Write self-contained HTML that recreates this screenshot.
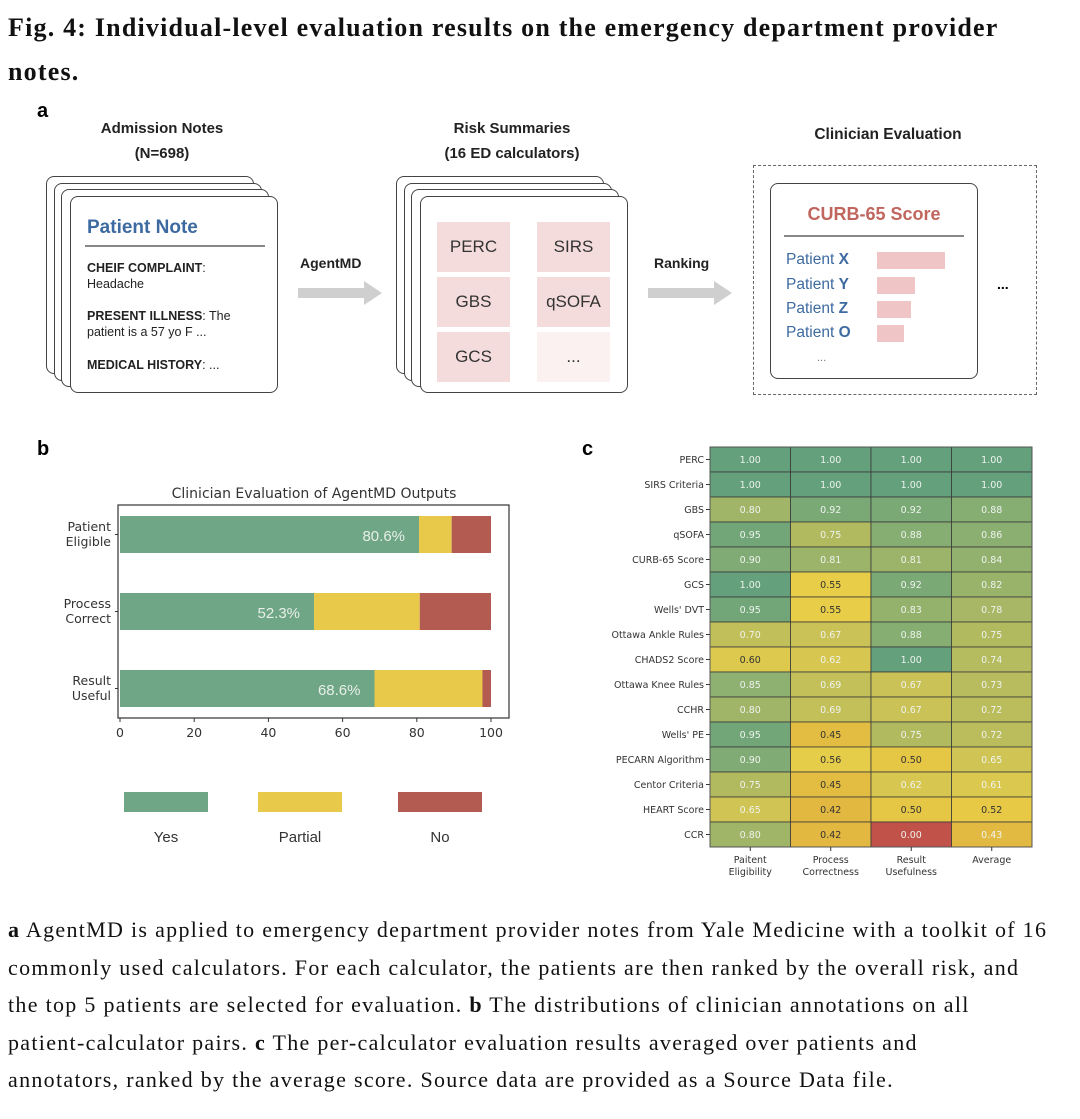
<!DOCTYPE html>
<html><head><meta charset="utf-8"><style>
body{margin:0;width:1080px;height:1119px;background:#fff;position:relative;overflow:hidden;font-family:"Liberation Sans",sans-serif;}
.abs{position:absolute;}
.title{font-family:"Liberation Serif",serif;font-weight:bold;font-size:26px;letter-spacing:1.2px;line-height:44px;left:8px;top:6px;width:1070px;color:#111;white-space:nowrap;}
.cap{font-family:"Liberation Serif",serif;font-size:22px;letter-spacing:1.3px;line-height:37.5px;left:8px;top:911px;width:1075px;color:#111;white-space:nowrap;}
.card{position:absolute;background:#fff;border:1.5px solid #444;border-radius:8px;}
.pn{font-size:12.5px;color:#222;}
.box{position:absolute;background:#f4dcdc;font-size:17px;color:#333;display:flex;align-items:center;justify-content:center;width:73px;height:50px;}
.plab{position:absolute;color:#3d6aa0;font-size:15.5px;}
.pbar{position:absolute;background:#efc5c5;height:17px;}
</style></head><body>
<div class="abs title">Fig. 4: Individual-level evaluation results on the emergency department provider<br>notes.</div>

<!-- panel a -->
<div>
<div class="abs" style="left:37px;top:100px;font-weight:bold;font-size:20px;">a</div>
<div class="abs" style="left:62px;top:116px;width:200px;text-align:center;font-weight:bold;font-size:15px;line-height:25px;color:#222;">Admission Notes<br>(N=698)</div>
<div class="card" style="left:46px;top:176px;width:206px;height:196px;"></div>
<div class="card" style="left:54px;top:183px;width:206px;height:196px;"></div>
<div class="card" style="left:61px;top:189px;width:206px;height:196px;"></div>
<div class="card" style="left:70px;top:196px;width:206px;height:195px;">
  <div class="abs" style="left:16px;top:20px;color:#3d6aa0;font-size:19px;font-weight:bold;">Patient Note</div>
  <div class="abs" style="left:14px;top:48px;width:180px;border-top:2px solid #888;"></div>
  <div class="abs pn" style="left:16px;top:63px;line-height:16px;"><b>CHEIF COMPLAINT</b>:<br>Headache</div>
  <div class="abs pn" style="left:16px;top:111px;line-height:16px;"><b>PRESENT ILLNESS</b>: The<br>patient is a 57 yo F ...</div>
  <div class="abs pn" style="left:16px;top:161px;"><b>MEDICAL HISTORY</b>: ...</div>
</div>
<div class="abs" style="left:300px;top:255px;font-weight:bold;font-size:14px;color:#222;">AgentMD</div>
<svg class="abs" style="left:296px;top:280px;" width="90" height="26"><path d="M2 8 H68 V1 L86 13 L68 25 V18 H2 Z" fill="#cfcfcf"/></svg>

<div class="abs" style="left:412px;top:116px;width:200px;text-align:center;font-weight:bold;font-size:15px;line-height:25px;color:#222;">Risk Summaries<br>(16 ED calculators)</div>
<div class="card" style="left:396px;top:176px;width:206px;height:196px;"></div>
<div class="card" style="left:404px;top:183px;width:206px;height:196px;"></div>
<div class="card" style="left:411px;top:189px;width:206px;height:196px;"></div>
<div class="card" style="left:420px;top:196px;width:206px;height:195px;">
  <div class="box" style="left:16px;top:25px;">PERC</div>
  <div class="box" style="left:116px;top:25px;">SIRS</div>
  <div class="box" style="left:16px;top:80px;">GBS</div>
  <div class="box" style="left:116px;top:80px;">qSOFA</div>
  <div class="box" style="left:16px;top:135px;">GCS</div>
  <div class="box" style="left:116px;top:135px;background:#fbf1f1;">...</div>
</div>
<div class="abs" style="left:654px;top:255px;font-weight:bold;font-size:14px;color:#222;">Ranking</div>
<svg class="abs" style="left:646px;top:280px;" width="90" height="26"><path d="M2 8 H68 V1 L86 13 L68 25 V18 H2 Z" fill="#cfcfcf"/></svg>

<div class="abs" style="left:770px;top:126px;width:236px;text-align:center;font-weight:bold;font-size:15.5px;color:#222;">Clinician Evaluation</div>
<div class="abs" style="left:753px;top:165px;width:282px;height:228px;border:1.5px dashed #666;"></div>
<div class="card" style="left:770px;top:183px;width:206px;height:194px;">
  <div class="abs" style="left:0;top:20px;width:206px;text-align:center;color:#c0665e;font-size:18px;font-weight:bold;">CURB-65 Score</div>
  <div class="abs" style="left:13px;top:51px;width:180px;border-top:2px solid #888;"></div>
  <div class="plab" style="left:15px;top:67px;">Patient <b>X</b></div><div class="pbar" style="left:106px;top:68px;width:68px;"></div>
  <div class="plab" style="left:15px;top:92px;">Patient <b>Y</b></div><div class="pbar" style="left:106px;top:93px;width:38px;"></div>
  <div class="plab" style="left:15px;top:116px;">Patient <b>Z</b></div><div class="pbar" style="left:106px;top:117px;width:34px;"></div>
  <div class="plab" style="left:15px;top:140px;">Patient <b>O</b></div><div class="pbar" style="left:106px;top:141px;width:27px;"></div>
  <div class="abs" style="left:46px;top:168px;font-size:11px;color:#777;">...</div>
</div>
<div class="abs" style="left:997px;top:276px;font-weight:bold;font-size:14px;">...</div>
</div>

<!-- panel b -->
<div class="abs" style="left:37px;top:438px;font-weight:bold;font-size:20px;">b</div>
<svg class="abs" style="left:0;top:0" width="1080" height="1119" id="barsvg"></svg>

<!-- panel c -->
<div class="abs" style="left:582px;top:438px;font-weight:bold;font-size:20px;">c</div>

<div class="abs cap"><b>a</b> AgentMD is applied to emergency department provider notes from Yale Medicine with a toolkit of 16<br>commonly used calculators. For each calculator, the patients are then ranked by the overall risk, and<br>the top 5 patients are selected for evaluation. <b>b</b> The distributions of clinician annotations on all<br>patient-calculator pairs. <b>c</b> The per-calculator evaluation results averaged over patients and<br>annotators, ranked by the average score. Source data are provided as a Source Data file.</div>

<script>
var NS='http://www.w3.org/2000/svg';
var svg=document.getElementById('barsvg');
function mk(tag,attrs,parent){var e=document.createElementNS(NS,tag);for(var k in attrs)e.setAttribute(k,attrs[k]);(parent||svg).appendChild(e);return e;}
function txt(s,attrs){var t=mk('text',attrs);t.textContent=s;return t;}

// ---- bar chart data ----
var barCategories=['Patient|Eligible','Process|Correct','Result|Useful'];
var yesValues=[80.6,52.3,68.6];
var partialValues=[8.8,28.5,29.1];
var noValues=[10.6,19.2,2.3];
var xTicks=[0,20,40,60,80,100];
var legendLabels=['Yes','Partial','No'];
var barColors=['#6fa685','#e8c94a','#b35a51'];

var bx0=120,bx1=491;
function xs(v){return bx0+(bx1-bx0)*v/100;}
var barH=37;
function yb(i){return 516+i*77;}
mk('rect',{x:118,y:505,width:391,height:213,fill:'none',stroke:'#333','stroke-width':1.2});
var tt=txt('Clinician Evaluation of AgentMD Outputs',{x:314,y:498,'text-anchor':'middle','font-size':14,fill:'#333','font-family':'DejaVu Sans, sans-serif'});


var series=[yesValues,partialValues,noValues];
barCategories.forEach(function(c,i){
  var cum=0;
  series.forEach(function(vals,s){
    var r=mk('rect',{x:xs(cum),y:yb(i),width:xs(cum+vals[i])-xs(cum),height:barH,fill:barColors[s]});
    
    
    cum+=vals[i];
  });
  var lb=txt(yesValues[i].toFixed(1)+'%',{x:xs(yesValues[i])-14,y:yb(i)+25,'text-anchor':'end','font-size':15,fill:'#e8efe9'});
  
  
  var parts=c.split('|');
  parts.forEach(function(p,k){
    var t=txt(p,{x:111,y:yb(i)+15+k*15,'text-anchor':'end','font-size':12.5,fill:'#333','font-family':'DejaVu Sans, sans-serif'});
    
    
  });
  mk('line',{x1:115,x2:118,y1:yb(i)+barH/2,y2:yb(i)+barH/2,stroke:'#333'});
});
xTicks.forEach(function(v){
  mk('line',{x1:xs(v),x2:xs(v),y1:718,y2:722,stroke:'#333'});
  var t=txt(String(v),{x:xs(v),y:737,'text-anchor':'middle','font-size':12.5,fill:'#333','font-family':'DejaVu Sans, sans-serif'});
  
  
});
var legX=[124,258,398];
legendLabels.forEach(function(l,s){
  var r=mk('rect',{x:legX[s],y:792,width:84,height:20,fill:barColors[s]});
  
  
  var t=txt(l,{x:legX[s]+42,y:842,'text-anchor':'middle','font-size':15,fill:'#333'});
  
  
});

// ---- heatmap data ----
var hmRows=['PERC','SIRS Criteria','GBS','qSOFA','CURB-65 Score','GCS',"Wells' DVT",'Ottawa Ankle Rules','CHADS2 Score','Ottawa Knee Rules','CCHR',"Wells' PE",'PECARN Algorithm','Centor Criteria','HEART Score','CCR'];
var hmCols=['Paitent|Eligibility','Process|Correctness','Result|Usefulness','Average'];
var eligibility=[1.00,1.00,0.80,0.95,0.90,1.00,0.95,0.70,0.60,0.85,0.80,0.95,0.90,0.75,0.65,0.80];
var correctness=[1.00,1.00,0.92,0.75,0.81,0.55,0.55,0.67,0.62,0.69,0.69,0.45,0.56,0.45,0.42,0.42];
var usefulness=[1.00,1.00,0.92,0.88,0.81,0.92,0.83,0.88,1.00,0.67,0.67,0.75,0.50,0.62,0.50,0.00];
var average=[1.00,1.00,0.88,0.86,0.84,0.82,0.78,0.75,0.74,0.73,0.72,0.72,0.65,0.61,0.52,0.43];
var hmSeries=[eligibility,correctness,usefulness,average];
var stops=[[0,[192,82,74]],[0.42,[226,184,64]],[0.55,[232,206,72]],[0.65,[208,196,84]],[0.75,[178,186,96]],[0.85,[142,176,112]],[1.0,[100,160,124]]];
function cmap(v){
  for(var i=1;i<stops.length;i++){if(v<=stops[i][0]){var a=stops[i-1],b=stops[i],t=(v-a[0])/(b[0]-a[0]);
    return 'rgb('+[0,1,2].map(function(k){return Math.round(a[1][k]+(b[1][k]-a[1][k])*t);}).join(',')+')';}}
  return 'rgb(100,160,124)';}
var hx0=710,hx1=1032,hy0=447,hy1=847;
var cw=(hx1-hx0)/hmCols.length,ch=(hy1-hy0)/hmRows.length;
hmRows.forEach(function(r,i){
  hmSeries.forEach(function(vals,j){
    var v=vals[i];
    var c=mk('rect',{x:hx0+j*cw,y:hy0+i*ch,width:cw,height:ch,fill:cmap(v),stroke:'#3a3a3a','stroke-width':0.8});
    
    
    var dark=(v>=0.42&&v<=0.60&&!(j==3&&v<0.5));
    var t=txt(v.toFixed(2),{x:hx0+j*cw+cw/2,y:hy0+i*ch+ch/2+3.5,'text-anchor':'middle','font-size':9.5,fill:dark?'#333':'#eef3ee','font-family':'DejaVu Sans, sans-serif'});
    
    
  });
  mk('line',{x1:hx0-4,x2:hx0,y1:hy0+i*ch+ch/2,y2:hy0+i*ch+ch/2,stroke:'#333'});
  var t=txt(r,{x:hx0-6,y:hy0+i*ch+ch/2+3.5,'text-anchor':'end','font-size':9.5,fill:'#333','font-family':'DejaVu Sans, sans-serif'});
  
  
});
mk('rect',{x:hx0,y:hy0,width:hx1-hx0,height:hy1-hy0,fill:'none',stroke:'#555','stroke-width':1});
hmCols.forEach(function(c,j){
  var cx=hx0+j*cw+cw/2;
  mk('line',{x1:cx,x2:cx,y1:hy1,y2:hy1+4,stroke:'#333'});
  c.split('|').forEach(function(p,k){
    var t=txt(p,{x:cx,y:hy1+16+k*12,'text-anchor':'middle','font-size':9.5,fill:'#333','font-family':'DejaVu Sans, sans-serif'});
    
    
  });
});
</script>
</body></html>
